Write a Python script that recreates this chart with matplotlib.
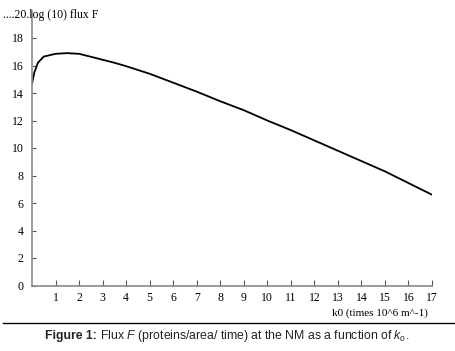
import matplotlib
matplotlib.use("Agg")
import matplotlib.pyplot as plt

k0 = [0, 0.1, 0.25, 0.5, 1.0, 1.5, 2.0, 2.7, 3.5, 4.0, 5.0, 6.0, 7.0, 8.0,
      9.0, 10.0, 11.0, 12.0, 13.0, 14.0, 15.0, 16.0, 17.0]
log_flux = [14.7, 15.5, 16.2, 16.65, 16.85, 16.9, 16.85, 16.55, 16.2, 15.95,
            15.4, 14.75, 14.1, 13.4, 12.75, 12.0, 11.3, 10.55, 9.8, 9.05,
            8.3, 7.45, 6.6]
xticks = list(range(1, 18))
yticks = list(range(0, 20, 2))

plt.rcParams['mathtext.fontset'] = 'custom'
plt.rcParams['mathtext.rm'] = 'Liberation Sans'
plt.rcParams['mathtext.it'] = 'Liberation Sans:italic'
plt.rcParams['mathtext.bf'] = 'Liberation Sans:bold'

W, H = 456, 351
fig = plt.figure(figsize=(W / 100, H / 100), dpi=100)
ax = fig.add_axes([32 / W, (H - 285.5) / H, 400 / W, 275 / H])
ax.plot(k0, log_flux, color='black', lw=1.3)
ax.set_xlim(0, 17)
ax.set_ylim(0, 20)
for s in ['top', 'right']:
    ax.spines[s].set_visible(False)
for s in ['left', 'bottom']:
    ax.spines[s].set_color('#8a8a8a')
    ax.spines[s].set_linewidth(1.2)
ax.set_xticks(xticks)
ax.set_yticks(yticks)
serif = 'Liberation Serif'
ax.tick_params(axis='both', direction='in', color='#555555', width=0.8,
               labelsize=8.5, labelcolor='black')
ax.tick_params(axis='x', length=4, pad=5)
ax.tick_params(axis='y', length=3, pad=6)
for lab in ax.get_xticklabels() + ax.get_yticklabels():
    lab.set_fontfamily(serif)

fig.text(3 / W, 1 - 15 / H, '....20.log (10) flux F', family=serif,
         fontsize=8.5, color='black', va='center', ha='left')
fig.text(428 / W, 1 - 313 / H, 'k0 (times 10^6 m^-1)', family=serif,
         fontsize=8, color='black', va='center', ha='right')
fig.add_artist(plt.Line2D([3 / W, 1.0], [1 - 323.3 / H, 1 - 323.3 / H],
                          transform=fig.transFigure, color='black', lw=1.0))

# caption in two pieces: bold label + rest
fs = 8.8
t1 = fig.text(0, 0, 'Figure 1:', family='Liberation Sans', weight='bold',
              fontsize=fs, color='#222222', ha='left', va='baseline')
t2 = fig.text(0, 0, r' Flux $\mathit{F}$ (proteins/area/ time) at the NM as a function of $\mathit{k}_{\mathit{o}}$.',
              family='Liberation Sans', fontsize=fs, color='#222222',
              ha='left', va='baseline')
fig.canvas.draw()
r = fig.canvas.get_renderer()
w1 = t1.get_window_extent(r).width
w2 = t2.get_window_extent(r).width
start = (227 - (w1 + w2) / 2)
base = 1 - 339 / H
t1.set_position((start / W, base))
t2.set_position(((start + w1) / W, base))
fig.savefig('out.png', dpi=100)
